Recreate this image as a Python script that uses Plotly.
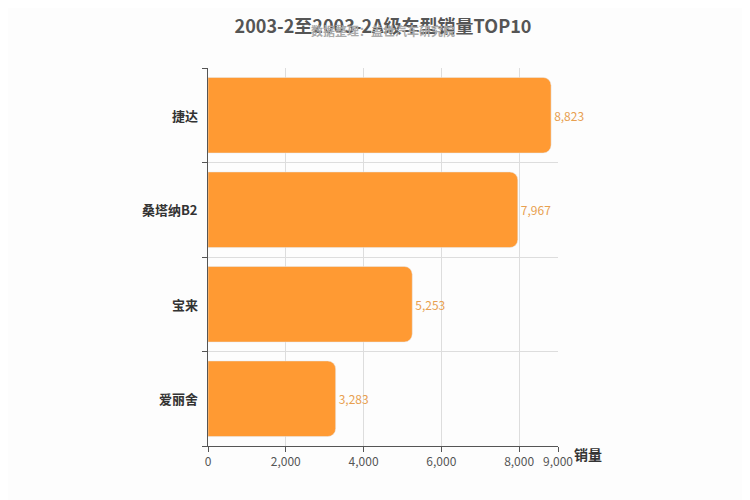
import plotly.graph_objects as go

models = ['捷达', '桑塔纳B2', '宝来', '爱丽舍']
sales = [8823, 7967, 5253, 3283]
x_ticks = [0, 2000, 4000, 6000, 8000, 9000]

pos = list(range(len(models)))[::-1]  # top to bottom

fig = go.Figure()
fig.add_trace(go.Bar(
    x=sales, y=pos, orientation='h', width=0.8,
    marker=dict(color='#ff9a33', cornerradius=8),
    text=[f'{v:,}' for v in sales], textposition='outside',
    textfont=dict(color='#e8a050', size=12, family='Noto Sans CJK SC'),
    cliponaxis=False,
))

for m, p in zip(models, pos):
    fig.add_annotation(x=0, xref='paper', xanchor='right', xshift=-8, y=p, yref='y',
                       text=f'<b>{m}</b>', showarrow=False,
                       font=dict(size=13, color='#333', family='Noto Sans CJK SC'))

fig.add_annotation(x=1, xref='paper', y=0, yref='paper', xanchor='left', yanchor='top',
                   xshift=14, yshift=4, text='<b>销量</b>', showarrow=False,
                   font=dict(size=14, color='#333', family='Noto Sans CJK SC'))

fig.update_layout(
    width=750, height=500,
    paper_bgcolor='#fdfdfd', plot_bgcolor='#fdfdfd',
    margin=dict(l=200, r=200, t=60, b=62),
    showlegend=False,
    font=dict(family='Noto Sans CJK SC', color='#555'),
    title=dict(text='<b>2003-2至2003-2A级车型销量TOP10</b>', x=0.5, xanchor='center', y=0.975,
               font=dict(size=18, color='#555')),
)
fig.add_annotation(x=0.5, xref='paper', y=458, yref='paper', showarrow=False,
                   text='<b>数据整理：盖世汽车研究院</b>',
                   font=dict(size=12, color='#aaa'))
fig.layout.annotations[-1].update(y=1.1, yanchor='middle')

fig.update_xaxes(range=[0, 9000], tickvals=x_ticks, ticktext=[f'{t:,}' for t in x_ticks],
                 showgrid=True, gridcolor='#ddd', zeroline=False,
                 showline=True, linecolor='#555', ticks='outside', ticklen=5, tickcolor='#555',
                 tickfont=dict(size=12, color='#555'))
fig.update_yaxes(range=[-0.5, 3.5], tickvals=[-0.5, 0.5, 1.5, 2.5, 3.5], ticktext=['']*5,
                 showgrid=True, gridcolor='#ddd', zeroline=False,
                 showline=True, linecolor='#555', ticks='outside', ticklen=5, tickcolor='#555')

fig.write_html("out.html")
